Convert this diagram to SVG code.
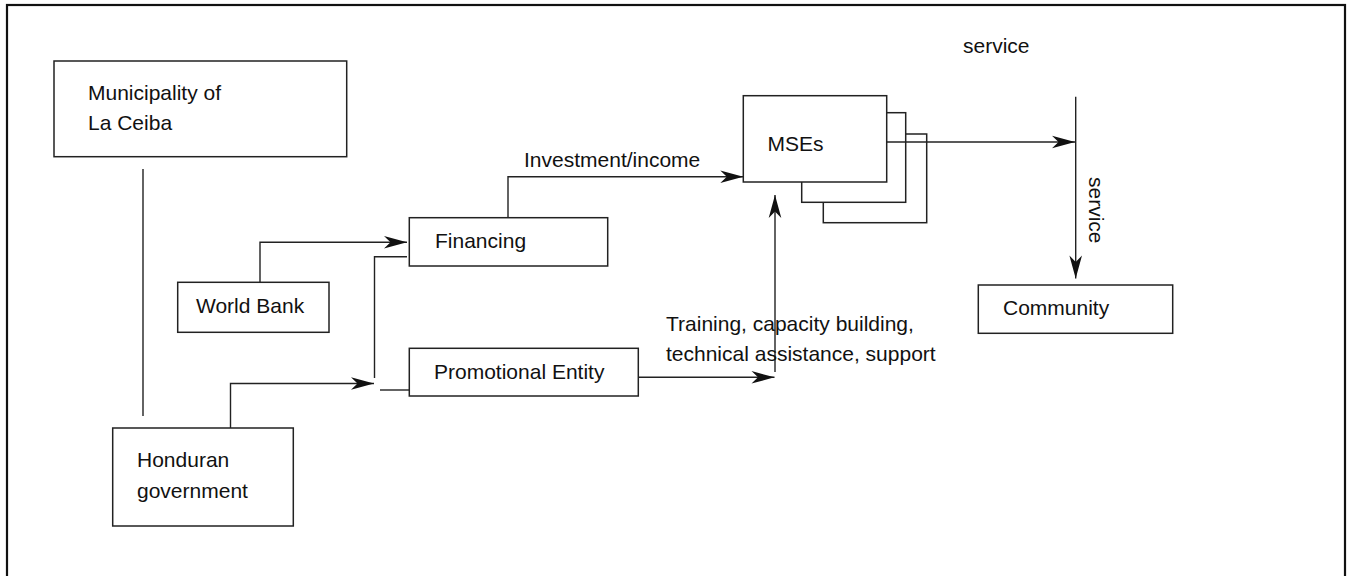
<svg xmlns="http://www.w3.org/2000/svg" width="1350" height="576" viewBox="0 0 1350 576">
<style>
.box{fill:#fff;stroke:#222;stroke-width:1.5}
.t{font-family:"Liberation Sans",Arial,sans-serif;font-size:21px;fill:#111}
.c{fill:none;stroke:#222;stroke-width:1.4}
.a{marker-end:url(#arr)}
</style>
<defs>
<marker id="arr" markerUnits="userSpaceOnUse" viewBox="-24 -7 25 14" refX="0" refY="0" markerWidth="25" markerHeight="14" orient="auto">
<path d="M0,0 L-23,-6.3 L-16.5,0 L-23,6.3 Z" fill="#111"/>
</marker>
</defs>
<rect x="0" y="0" width="1350" height="576" fill="#fff"/>
<rect x="7" y="5" width="1338" height="580" fill="none" stroke="#111" stroke-width="2.2"/>

<g id="connectors">
<path class="c" d="M143,169 V416"/>
<path class="c a" d="M260,282.3 V242.3 H407"/>
<path class="c a" d="M230.5,428 V383.5 H374"/>
<path class="c" d="M407,256.7 H374.5 V378"/>
<path class="c" d="M380,390 H409.3"/>
<path class="c a" d="M508,217.7 V176.7 H743.3"/>
<path class="c a" d="M638.3,377.3 H774.5"/>
<path class="c a" d="M775,372 V195"/>
<path class="c" d="M1075.7,96.7 V142"/>
<path class="c a" d="M1075.7,142 V278.5"/>
</g>

<g id="node-municipality">
<rect class="box" x="54" y="61" width="292.7" height="95.7"/>
<text class="t" x="88" y="100">Municipality of</text>
<text class="t" x="88" y="129.5">La Ceiba</text>
</g>
<g id="node-honduran">
<rect class="box" x="112.7" y="428" width="180.6" height="98"/>
<text class="t" x="137" y="467">Honduran</text>
<text class="t" x="137" y="498">government</text>
</g>
<g id="node-worldbank">
<rect class="box" x="177.7" y="282.3" width="151.3" height="50"/>
<text class="t" x="196" y="312.5">World Bank</text>
</g>
<g id="node-financing">
<rect class="box" x="409.3" y="217.7" width="198.4" height="48.3"/>
<text class="t" x="435" y="248">Financing</text>
</g>
<g id="node-promotional">
<rect class="box" x="409.3" y="348.3" width="229" height="47.7"/>
<text class="t" x="434" y="378.5">Promotional Entity</text>
</g>
<g id="node-mses">
<rect class="box" x="823.3" y="134" width="103.4" height="88.7"/>
<rect class="box" x="801.7" y="112.7" width="104" height="89.6"/>
<rect class="box" x="743.3" y="95.7" width="143.4" height="86.3"/>
<text class="t" x="767.5" y="151" font-size="22">MSEs</text>
</g>
<g id="node-community">
<rect class="box" x="978.3" y="285" width="194.4" height="48.3"/>
<text class="t" x="1003" y="315">Community</text>
</g>
<g id="connector-arrow-top">
<path class="c a" d="M886.7,142 H1075"/>
</g>
<g id="labels">
<text class="t" x="524" y="167">Investment/income</text>
<text class="t" x="666" y="331">Training, capacity building,</text>
<text class="t" x="666" y="361">technical assistance, support</text>
<text class="t" x="963" y="53">service</text>
<text class="t" x="1089" y="177" transform="rotate(90 1089 177)">service</text>
</g>
</svg>
